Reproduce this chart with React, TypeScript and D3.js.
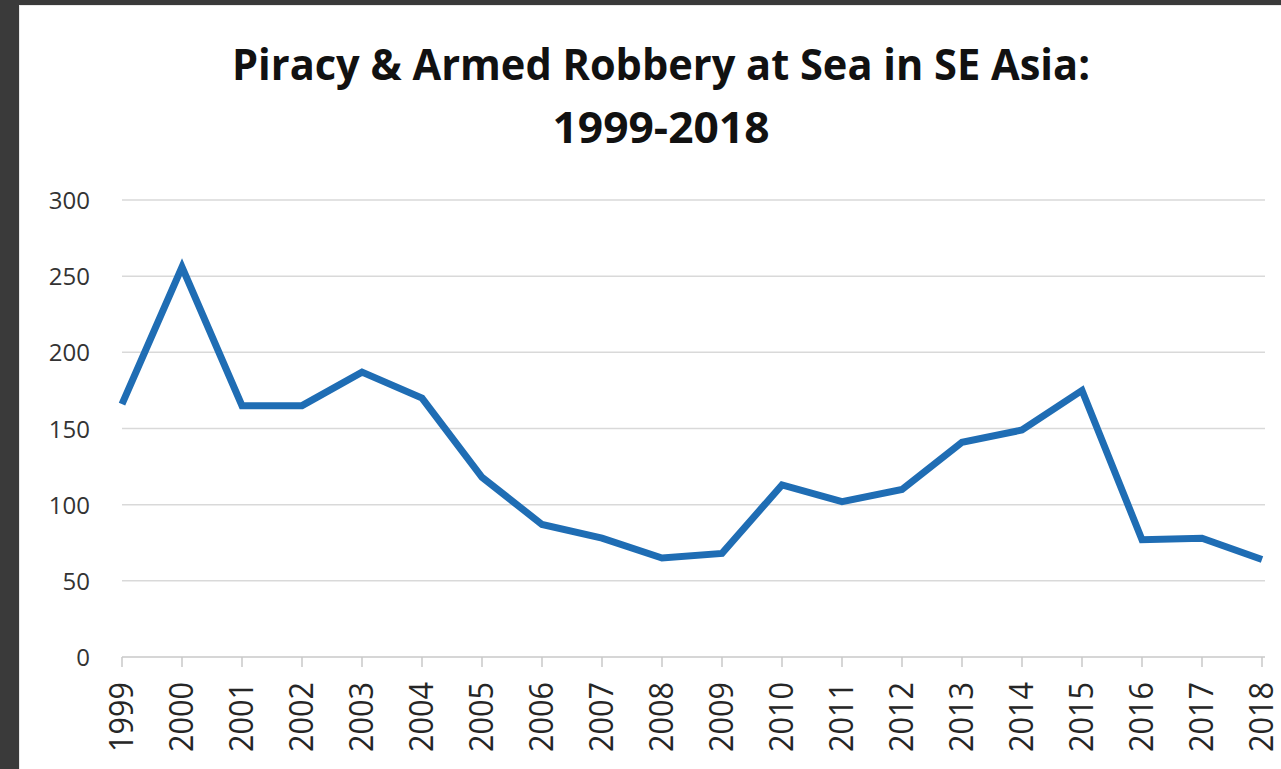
import React from "react";
import * as d3 from "d3";

// Incidents of piracy & armed robbery at sea, SE Asia
const years: number[] = [1999, 2000, 2001, 2002, 2003, 2004, 2005, 2006, 2007, 2008, 2009, 2010, 2011, 2012, 2013, 2014, 2015, 2016, 2017, 2018];
const incidents: number[] = [166, 256, 165, 165, 187, 170, 118, 87, 78, 65, 68, 113, 102, 110, 141, 149, 175, 77, 78, 64];
const yTicks: number[] = [0, 50, 100, 150, 200, 250, 300];
const titleLines: string[] = ["Piracy & Armed Robbery at Sea in SE Asia:", "1999-2018"];

const W = 1281;
const H = 769;
const plot = { left: 122, right: 1262, top: 200, bottom: 657 };

export default function App() {
  const x = d3
    .scalePoint<number>()
    .domain(years)
    .range([plot.left, plot.right]);
  const y = d3.scaleLinear().domain([0, 300]).range([plot.bottom, plot.top]);

  const line = d3
    .line<number>()
    .x((_, i) => x(years[i]) as number)
    .y((d) => y(d));

  const font = "'Open Sans', 'DejaVu Sans', sans-serif";

  return (
    <svg
      width={W}
      height={H}
      viewBox={`0 0 ${W} ${H}`}
      style={{ position: "absolute", left: 0, top: 0, display: "block" }}
    >
      {/* dark frame around the chart card */}
      <rect x={0} y={0} width={W} height={H} fill="#3a3a3a" />
      <rect x={19} y={5} width={W - 19} height={H - 5} fill="#e9e9e9" />
      <rect x={20} y={6} width={W - 20} height={H - 6} fill="#ffffff" />

      {/* title */}
      <text
        x={661}
        y={80}
        textAnchor="middle"
        fontFamily={font}
        fontWeight={700}
        fontSize={43}
        fill="#111"
        textLength={858}
        lengthAdjust="spacingAndGlyphs"
      >
        {titleLines[0]}
      </text>
      <text
        x={661}
        y={143}
        textAnchor="middle"
        fontFamily={font}
        fontWeight={700}
        fontSize={43}
        fill="#111"
        textLength={217}
        lengthAdjust="spacingAndGlyphs"
      >
        {titleLines[1]}
      </text>

      {/* horizontal gridlines */}
      {yTicks
        .filter((t) => t > 0)
        .map((t) => (
          <line
            key={`g${t}`}
            x1={plot.left}
            x2={plot.right + 3}
            y1={y(t)}
            y2={y(t)}
            stroke="#d9d9d9"
            strokeWidth={1.5}
          />
        ))}

      {/* y tick labels */}
      {yTicks.map((t) => (
        <text
          key={`yl${t}`}
          x={90}
          y={y(t) + 9}
          textAnchor="end"
          fontFamily={font}
          fontSize={24}
          fill="#333"
        >
          {t}
        </text>
      ))}

      {/* x axis */}
      <line
        x1={plot.left}
        x2={plot.right + 3}
        y1={plot.bottom}
        y2={plot.bottom}
        stroke="#c8c8c8"
        strokeWidth={1.5}
      />
      {years.map((yr) => (
        <line
          key={`t${yr}`}
          x1={x(yr)}
          x2={x(yr)}
          y1={plot.bottom}
          y2={plot.bottom + 10}
          stroke="#c8c8c8"
          strokeWidth={1.5}
        />
      ))}
      {years.map((yr) => {
        const cx = (x(yr) as number) + 11;
        const cy = 682;
        return (
          <text
            key={`xl${yr}`}
            transform={`translate(${cx},${cy}) rotate(-90)`}
            textAnchor="end"
            fontFamily={font}
            fontSize={32}
            fill="#262626"
            textLength={70}
            lengthAdjust="spacingAndGlyphs"
          >
            {yr}
          </text>
        );
      })}

      {/* series */}
      <path
        d={line(incidents) ?? ""}
        fill="none"
        stroke="#1f6db4"
        strokeWidth={7}
        strokeLinejoin="miter"
        strokeLinecap="butt"
      />
    </svg>
  );
}
